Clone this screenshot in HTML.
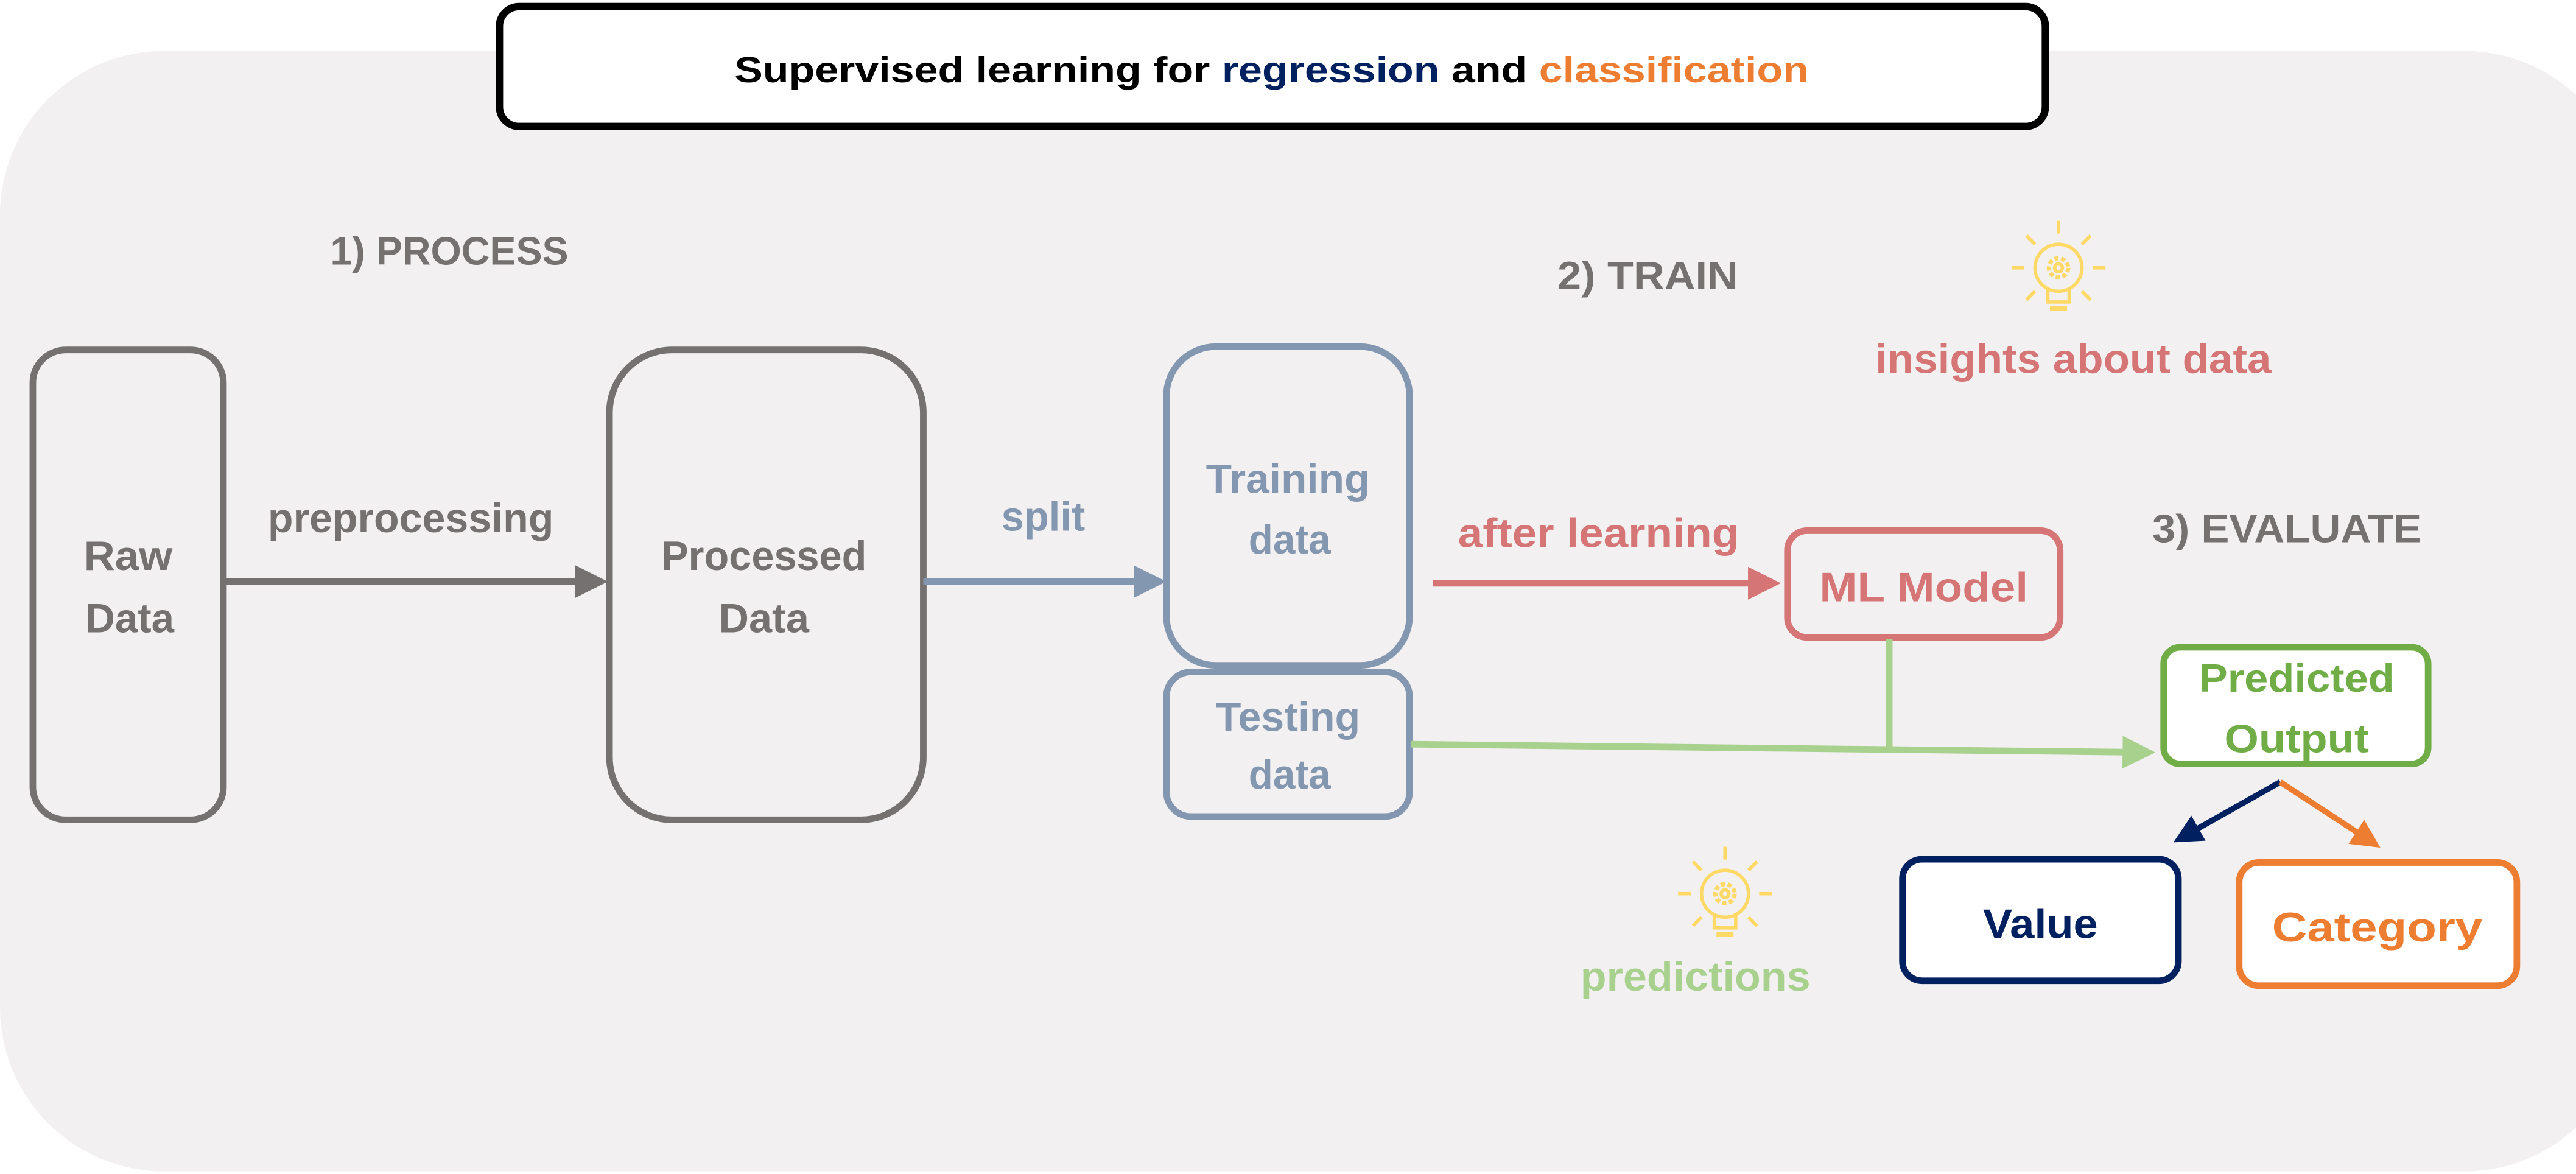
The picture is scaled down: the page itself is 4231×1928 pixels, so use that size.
<!DOCTYPE html>
<html><head><meta charset="utf-8"><style>
html,body{margin:0;padding:0;background:#fff;}
svg{display:block;}
text{font-family:"Liberation Sans",sans-serif;font-weight:bold;}
</style></head><body>
<svg width="4231" height="1928" viewBox="0 0 1568 714.6" preserveAspectRatio="none" xmlns="http://www.w3.org/2000/svg">
<defs>
<marker id="ag" markerWidth="5" markerHeight="5" refX="4" refY="2.5" orient="auto" markerUnits="strokeWidth"><path d="M0,0 L5,2.5 L0,5 z" fill="#767171"/></marker>
<marker id="ab" markerWidth="5" markerHeight="5" refX="4" refY="2.5" orient="auto" markerUnits="strokeWidth"><path d="M0,0 L5,2.5 L0,5 z" fill="#8497b0"/></marker>
<marker id="ar" markerWidth="5" markerHeight="5" refX="4" refY="2.5" orient="auto" markerUnits="strokeWidth"><path d="M0,0 L5,2.5 L0,5 z" fill="#d57575"/></marker>
<marker id="agr" markerWidth="5" markerHeight="5" refX="4" refY="2.5" orient="auto" markerUnits="strokeWidth"><path d="M0,0 L5,2.5 L0,5 z" fill="#a9d18e"/></marker>
<marker id="an" markerWidth="5" markerHeight="5" refX="4" refY="2.5" orient="auto" markerUnits="strokeWidth"><path d="M0,0 L5,2.5 L0,5 z" fill="#002060"/></marker>
<marker id="ao" markerWidth="5" markerHeight="5" refX="4" refY="2.5" orient="auto" markerUnits="strokeWidth"><path d="M0,0 L5,2.5 L0,5 z" fill="#ed7d31"/></marker>
<g id="bulb" fill="none" stroke="#ffd966" stroke-width="1.6">
<circle cx="0" cy="0" r="11"/>
<path d="M-5,10 L-5,16 L5,16 L5,10"/>
<line x1="-4" y1="19" x2="4" y2="19" stroke-width="2.5"/>
<line x1="0" y1="-16" x2="0" y2="-22"/><line x1="16" y1="0" x2="22" y2="0"/><line x1="-16" y1="0" x2="-22" y2="0"/>
<line x1="11" y1="-11" x2="15" y2="-15"/><line x1="-11" y1="-11" x2="-15" y2="-15"/>
<line x1="11" y1="11" x2="15" y2="15"/><line x1="-11" y1="11" x2="-15" y2="15"/>
<circle cx="0" cy="0" r="4.5" stroke-dasharray="2 1.2" stroke-width="2"/>
<circle cx="0" cy="0" r="1.8"/>
</g>
</defs>
<rect x="0" y="31" width="1600" height="682" rx="100" fill="#f2f0f1"/>
<rect x="304" y="4" width="941" height="73" rx="12" fill="#fff" stroke="#000" stroke-width="4.5"/>
<text x="774" y="50" font-size="22" text-anchor="middle" textLength="654" lengthAdjust="spacingAndGlyphs"><tspan fill="#000">Supervised learning for </tspan><tspan fill="#002060">regression</tspan><tspan fill="#000"> and </tspan><tspan fill="#ed7d31">classification</tspan></text>

<text x="201" y="161" font-size="24" fill="#757171" textLength="145" lengthAdjust="spacingAndGlyphs">1) PROCESS</text>
<rect x="20" y="213" width="116" height="286" rx="20" fill="none" stroke="#767171" stroke-width="4"/>
<text x="78" y="347" font-size="25" fill="#757171" text-anchor="middle" textLength="54" lengthAdjust="spacingAndGlyphs">Raw</text>
<text x="79" y="385" font-size="25" fill="#757171" text-anchor="middle" textLength="54" lengthAdjust="spacingAndGlyphs">Data</text>
<line x1="136" y1="354" x2="366" y2="354" stroke="#767171" stroke-width="4" marker-end="url(#ag)"/>
<text x="250" y="324" font-size="25" fill="#757171" text-anchor="middle" textLength="174" lengthAdjust="spacingAndGlyphs">preprocessing</text>
<rect x="371" y="213" width="191" height="286" rx="38" fill="none" stroke="#767171" stroke-width="4"/>
<text x="465" y="347" font-size="25" fill="#757171" text-anchor="middle" textLength="125" lengthAdjust="spacingAndGlyphs">Processed</text>
<text x="465" y="385" font-size="25" fill="#757171" text-anchor="middle" textLength="55" lengthAdjust="spacingAndGlyphs">Data</text>
<line x1="562" y1="354" x2="706" y2="354" stroke="#8497b0" stroke-width="4" marker-end="url(#ab)"/>
<text x="635" y="323" font-size="25" fill="#8497b0" text-anchor="middle" textLength="51" lengthAdjust="spacingAndGlyphs">split</text>
<rect x="710" y="211" width="148" height="194" rx="30" fill="none" stroke="#8497b0" stroke-width="4"/>
<text x="784" y="300" font-size="25" fill="#8497b0" text-anchor="middle" textLength="100" lengthAdjust="spacingAndGlyphs">Training</text>
<text x="785" y="337" font-size="25" fill="#8497b0" text-anchor="middle" textLength="50" lengthAdjust="spacingAndGlyphs">data</text>
<rect x="710" y="409" width="148" height="88" rx="15" fill="none" stroke="#8497b0" stroke-width="4"/>
<text x="784" y="445" font-size="25" fill="#8497b0" text-anchor="middle" textLength="88" lengthAdjust="spacingAndGlyphs">Testing</text>
<text x="785" y="480" font-size="25" fill="#8497b0" text-anchor="middle" textLength="50" lengthAdjust="spacingAndGlyphs">data</text>

<text x="948" y="176" font-size="24" fill="#757171" textLength="110" lengthAdjust="spacingAndGlyphs">2) TRAIN</text>
<use href="#bulb" transform="translate(1253,163) scale(1.3)"/>
<text x="1262" y="227" font-size="25" fill="#d57575" text-anchor="middle" textLength="241" lengthAdjust="spacingAndGlyphs">insights about data</text>
<line x1="872" y1="355" x2="1080" y2="355" stroke="#d57575" stroke-width="4" marker-end="url(#ar)"/>
<text x="973" y="333" font-size="25" fill="#d57575" text-anchor="middle" textLength="171" lengthAdjust="spacingAndGlyphs">after learning</text>
<rect x="1088" y="323" width="166" height="65" rx="12" fill="none" stroke="#d57575" stroke-width="4"/>
<text x="1171" y="366" font-size="25" fill="#d57575" text-anchor="middle" textLength="127" lengthAdjust="spacingAndGlyphs">ML Model</text>

<text x="1310" y="330" font-size="24" fill="#757171" textLength="164" lengthAdjust="spacingAndGlyphs">3) EVALUATE</text>
<line x1="1150" y1="389" x2="1150" y2="456" stroke="#a9d18e" stroke-width="4"/>
<line x1="859" y1="453" x2="1308" y2="458" stroke="#a9d18e" stroke-width="4" marker-end="url(#agr)"/>
<rect x="1317" y="394" width="161" height="71" rx="10" fill="#fff" stroke="#70ad47" stroke-width="4"/>
<text x="1398" y="421" font-size="24" fill="#70ad47" text-anchor="middle" textLength="119" lengthAdjust="spacingAndGlyphs">Predicted</text>
<text x="1398" y="458" font-size="24" fill="#70ad47" text-anchor="middle" textLength="88" lengthAdjust="spacingAndGlyphs">Output</text>
<line x1="1388" y1="476" x2="1326" y2="511" stroke="#002060" stroke-width="3.5" marker-end="url(#an)"/>
<line x1="1388" y1="476" x2="1446" y2="514" stroke="#ed7d31" stroke-width="3.5" marker-end="url(#ao)"/>
<rect x="1158" y="523" width="168" height="74" rx="12" fill="#fff" stroke="#002060" stroke-width="4"/>
<text x="1242" y="571" font-size="25" fill="#002060" text-anchor="middle" textLength="70" lengthAdjust="spacingAndGlyphs">Value</text>
<rect x="1363" y="525" width="169" height="75" rx="12" fill="#fff" stroke="#ed7d31" stroke-width="4"/>
<text x="1447" y="573" font-size="25" fill="#ed7d31" text-anchor="middle" textLength="128" lengthAdjust="spacingAndGlyphs">Category</text>
<use href="#bulb" transform="translate(1050,544) scale(1.3)"/>
<text x="1032" y="603" font-size="25" fill="#a9d18e" text-anchor="middle" textLength="140" lengthAdjust="spacingAndGlyphs">predictions</text>
</svg>
</body></html>
